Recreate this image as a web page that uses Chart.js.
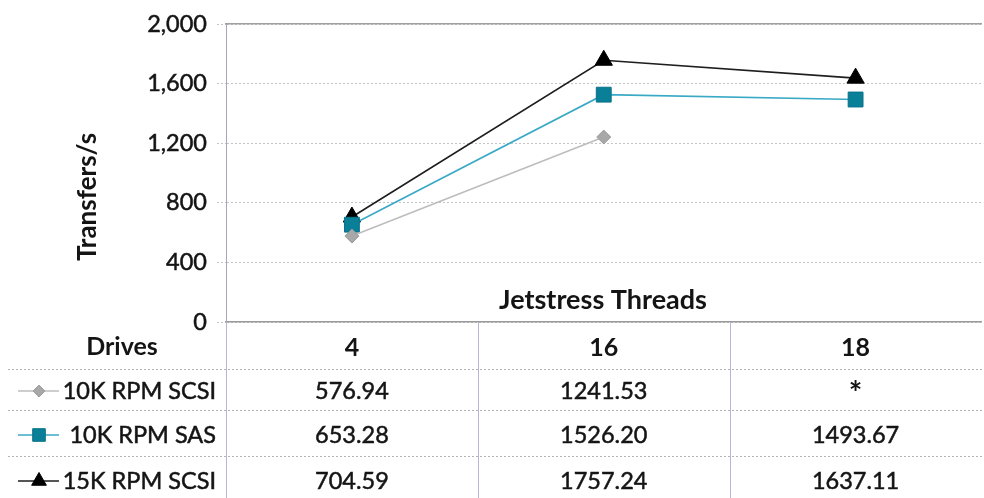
<!DOCTYPE html>
<html>
<head>
<meta charset="utf-8">
<script src="https://cdn.jsdelivr.net/npm/chart.js@4/dist/chart.umd.min.js"></script>
<style>
  html, body { margin: 0; padding: 0; background: #fff; overflow: hidden; }
  #wrap { width: 984px; height: 498px; overflow: hidden; }
  #box { width: 993px; height: 498px; position: relative; }
</style>
</head>
<body>
<div id="wrap"><div id="box"><canvas id="c"></canvas></div></div>
<script>
// Jetstress thread counts (x categories)
const threads = ['4', '16', '18'];
// Drive types
const driveNames = ['10K RPM SCSI', '10K RPM SAS', '15K RPM SCSI'];
// Transfers/s per thread count (null = not measured)
const scsi10k = [576.94, 1241.53, null];
const sas10k = [653.28, 1526.20, 1493.67];
const scsi15k = [704.59, 1757.24, 1637.11];
// Value-axis ticks
const yTicks = [0, 400, 800, 1200, 1600, 2000];

const FONT = 'Lato, "Noto Sans", sans-serif';
const INK = '#141414';

const styles = [
  { line: '#bdbdbd', fill: '#a8a8a8', edge: '#9c9c9c', shape: 'rectRot', r: 7 },
  { line: '#3aa9c6', fill: '#0a7f98', edge: '#0a7389', shape: 'rect', r: 10.5 },
  { line: '#1e1e1e', fill: '#000000', edge: '#000000', shape: 'triangle', r: 10 }
];
const seriesData = [scsi10k, sas10k, scsi15k];

// Fill text with a thin outline in the same colour for a slightly heavier face
function heavyText(ctx, s, x, y, w) {
  ctx.lineWidth = w;
  ctx.strokeStyle = ctx.fillStyle;
  ctx.strokeText(s, x, y);
  ctx.fillText(s, x, y);
}

// Draws the axis title, the "Jetstress Threads" caption and the data table under the plot
const tablePlugin = {
  id: 'dataTable',
  afterDraw(chart) {
    const { ctx, chartArea, scales } = chart;
    const x = scales.x;
    const W = chart.width;
    const base = chartArea.bottom;
    const centers = threads.map((t, i) => x.getPixelForValue(i));
    const bounds = [chartArea.left];
    for (let i = 0; i < centers.length - 1; i++) bounds.push((centers[i] + centers[i + 1]) / 2);
    const rowY = [391, 435, 481];
    const sepY = [369.5, 410.5, 456.5];

    ctx.save();
    // y-axis title
    ctx.save();
    ctx.translate(88, 197);
    ctx.rotate(-Math.PI / 2);
    ctx.fillStyle = INK;
    ctx.font = 'bold 26px ' + FONT;
    ctx.textAlign = 'center';
    ctx.textBaseline = 'middle';
    ctx.fillText('Transfers/s', 0, 0);
    ctx.restore();

    // x caption inside plot
    ctx.fillStyle = INK;
    ctx.font = 'bold 27px ' + FONT;
    ctx.textAlign = 'center';
    ctx.textBaseline = 'middle';
    ctx.fillText('Jetstress Threads', 603, 300);

    // row separators
    ctx.strokeStyle = '#b3b3b3';
    ctx.lineWidth = 1;
    ctx.setLineDash([2, 2]);
    sepY.forEach(y => {
      ctx.beginPath();
      ctx.moveTo(8, y);
      ctx.lineTo(W, y);
      ctx.stroke();
    });
    // column dividers
    ctx.strokeStyle = '#b6b9d6';
    ctx.setLineDash([]);
    bounds.forEach(bx => {
      const px = Math.round(bx) + 0.5;
      ctx.beginPath();
      ctx.moveTo(px, base);
      ctx.lineTo(px, 498);
      ctx.stroke();
    });

    // header row
    ctx.fillStyle = INK;
    ctx.font = 'bold 25px ' + FONT;
    ctx.fillText('Drives', 122, 347);
    threads.forEach((t, i) => ctx.fillText(t, centers[i], 348));

    // body rows
    driveNames.forEach((name, r) => {
      const y = rowY[r];
      const st = styles[r];
      // legend key
      ctx.strokeStyle = st.line;
      ctx.lineWidth = 1.5;
      ctx.beginPath();
      ctx.moveTo(18, y);
      ctx.lineTo(59, y);
      ctx.stroke();
      ctx.fillStyle = st.fill;
      ctx.strokeStyle = st.edge;
      ctx.lineWidth = 1;
      Chart.helpers.drawPoint(ctx, { pointStyle: st.shape, radius: st.r * 0.85, rotation: 0, borderWidth: 1 }, 39, y);

      ctx.fillStyle = INK;
      ctx.font = '23.5px ' + FONT;
      ctx.textAlign = 'right';
      heavyText(ctx, name, 216, y, 0.5);
      ctx.textAlign = 'center';
      seriesData[r].forEach((v, i) => {
        if (v === null) {
          ctx.font = 'bold 32px ' + FONT;
          ctx.fillText('*', centers[i], y + 4);
          ctx.font = '23.5px ' + FONT;
        } else {
          heavyText(ctx, v.toFixed(2), centers[i], y, 0.5);
        }
      });
    });
    ctx.restore();
  }
};

new Chart(document.getElementById('c'), {
  type: 'line',
  data: {
    labels: threads,
    datasets: seriesData.map((d, i) => ({
      label: driveNames[i],
      data: d,
      borderColor: styles[i].line,
      borderWidth: 1.6,
      pointStyle: styles[i].shape,
      pointRadius: styles[i].r,
      pointHoverRadius: styles[i].r,
      pointBackgroundColor: styles[i].fill,
      pointBorderColor: styles[i].edge,
      pointBorderWidth: 1,
      tension: 0,
      spanGaps: false
    }))
  },
  options: {
    responsive: true,
    maintainAspectRatio: false,
    animation: false,
    events: [],
    layout: { padding: { top: 22, left: 0, right: 0, bottom: 0 } },
    plugins: { legend: { display: false }, tooltip: { enabled: false } },
    scales: {
      x: {
        type: 'category',
        offset: true,
        grid: { display: false },
        border: { display: true, color: '#9a9a9a', width: 1.5 },
        ticks: { display: false },
        afterFit(s) { s.height = 176; }
      },
      xTop: {
        type: 'category',
        position: 'top',
        offset: true,
        grid: { display: false },
        border: { display: true, color: '#a0a0a0', width: 1.5 },
        ticks: { display: false },
        afterFit(s) { s.height = 0; }
      },
      y: {
        min: 0,
        max: 2000,
        afterBuildTicks(s) { s.ticks = yTicks.map(v => ({ value: v })); },
        ticks: {
          color: INK,
          padding: 10,
          font: { family: FONT, size: 23.5 },
          textStrokeColor: INK,
          textStrokeWidth: 0.5,
          callback: v => v.toLocaleString('en-US')
        },
        grid: { color: '#c4c4c4', lineWidth: 1, tickLength: 9, tickColor: '#c4c4c4', tickBorderDash: [2, 2] },
        border: { display: true, color: '#a8a8b4', width: 1, dash: [2, 2] },
        afterFit(s) { s.width = 226; }
      }
    }
  },
  plugins: [tablePlugin]
});
</script>
</body>
</html>
